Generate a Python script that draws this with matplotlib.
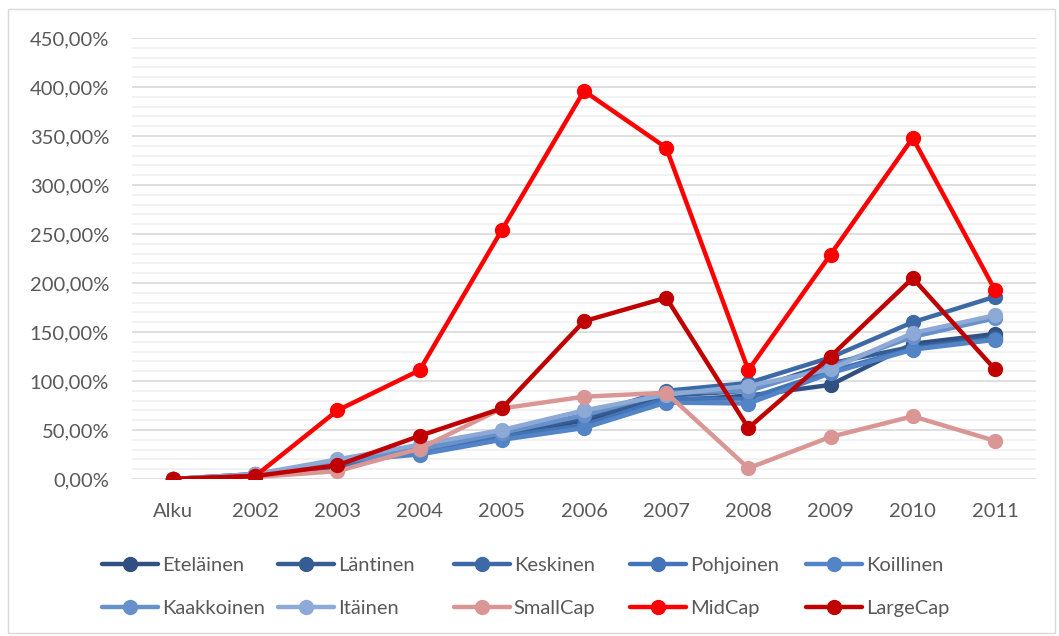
import matplotlib
matplotlib.use("Agg")
import matplotlib.pyplot as plt
from matplotlib.ticker import MultipleLocator, FuncFormatter
from matplotlib.patches import Rectangle

categories = ["Alku", "2002", "2003", "2004", "2005", "2006", "2007", "2008", "2009", "2010", "2011"]

etelainen  = [0, 3, 12, 30, 42, 60, 80, 85, 96, 138, 148]
lantinen   = [0, 4, 15, 32, 45, 62, 85, 90, 118, 135, 145]
keskinen   = [0, 5, 16, 33, 48, 65, 90, 98, 124, 160, 186]
pohjoinen  = [0, 4, 14, 28, 43, 55, 82, 82, 110, 133, 143]
koillinen  = [0, 5, 18, 25, 40, 52, 78, 77, 108, 132, 142]
kaakkoinen = [0, 4, 17, 30, 47, 65, 88, 90, 115, 145, 164]
itainen    = [0, 5, 20, 35, 50, 70, 86, 95, 112, 149, 167]
smallcap   = [0, 2, 8, 31, 72, 84, 88, 11, 43, 64, 39]
midcap     = [0, 3, 70, 111, 254, 396, 338, 111, 229, 348, 193]
largecap   = [0, 3, 14, 44, 72, 161, 185, 52, 125, 205, 112]

series_names = ["Eteläinen", "Läntinen", "Keskinen", "Pohjoinen", "Koillinen",
                "Kaakkoinen", "Itäinen", "SmallCap", "MidCap", "LargeCap"]
series_values = [etelainen, lantinen, keskinen, pohjoinen, koillinen,
                 kaakkoinen, itainen, smallcap, midcap, largecap]
colors = ["#2F5080", "#355D91", "#3D6AA6", "#4374B8", "#5384C6",
          "#6890CB", "#8DA9D6", "#DA9694", "#FF0000", "#C00000"]

plt.rcParams['font.family'] = ['Lato', 'DejaVu Sans']
text_color = "#595959"
FS = 14.5

fig = plt.figure(figsize=(10.59, 6.36), dpi=100)
W, H = 1059, 636
ax = fig.add_axes([132 / W, 1 - 479 / H, (1036 - 132) / W, (479 - 38) / H])

x = list(range(len(categories)))
handles = []
for name, vals, c in zip(series_names, series_values, colors):
    h, = ax.plot(x, vals, color=c, lw=3.2, marker='o', markersize=10,
                 markeredgecolor=c, label=name, solid_capstyle='round')
    handles.append(h)

ax.set_xlim(-0.5, len(categories) - 0.5)
ax.set_ylim(0, 450)
ax.yaxis.set_major_locator(MultipleLocator(50))
ax.yaxis.set_minor_locator(MultipleLocator(10))
ax.yaxis.set_major_formatter(FuncFormatter(lambda v, p: f"{v:.2f}".replace('.', ',') + "%"))
ax.set_xticks(x)
ax.set_xticklabels(categories)
ax.grid(which='major', axis='y', color='#D9D9D9', lw=1.2)
ax.grid(which='minor', axis='y', color='#F0F0F0', lw=1.2)
ax.set_axisbelow(True)
for s in ax.spines.values():
    s.set_visible(False)
ax.tick_params(axis='both', which='both', length=0, labelsize=FS, colors=text_color)
ax.tick_params(axis='y', pad=16.5)
ax.tick_params(axis='x', pad=17)

# legend: 5 columns x 2 rows, uniform column pitch
ncol = 5
fs_px = FS * 100 / 72
for col in range(ncol):
    idx = [col, col + ncol]
    x0 = (102 + 176 * col) / W
    leg = fig.legend([handles[i] for i in idx], [series_names[i] for i in idx],
                     loc='center left', bbox_to_anchor=(x0, 1 - 587 / H),
                     frameon=False, fontsize=FS, handlelength=56 / fs_px,
                     handletextpad=0.18, labelspacing=1.31, borderpad=0,
                     borderaxespad=0)
    for t in leg.get_texts():
        t.set_color(text_color)

fig.patches.append(Rectangle((8 / W, 3 / H), (W - 12) / W, (H - 12) / H,
                             transform=fig.transFigure, fill=False,
                             edgecolor='#D9D9D9', lw=1))

fig.savefig("out.png", dpi=100)
